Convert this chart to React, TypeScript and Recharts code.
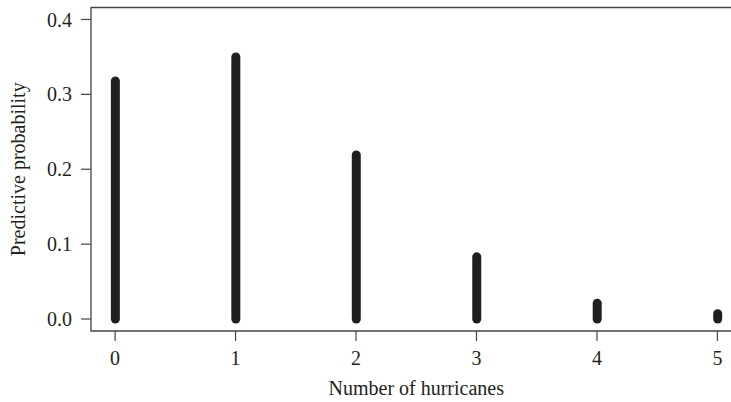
import React from "react";
import { ComposedChart, Bar, XAxis, YAxis, ReferenceArea } from "recharts";

const counts = [0, 1, 2, 3, 4, 5];
const probabilities = [0.318, 0.35, 0.219, 0.083, 0.021, 0.007];
const yTicks = [0, 0.1, 0.2, 0.3, 0.4];
const xTicks = [0, 1, 2, 3, 4, 5];

const data = counts.map((c, i) => ({ n: c, p: probabilities[i] }));

const FONT = "'Liberation Serif', 'DejaVu Serif', serif";
const INK = "#231f20";

const Stick = (props: any) => {
  const { x, y, width, height } = props;
  const cx = x + width / 2;
  return (
    <line
      x1={cx}
      x2={cx}
      y1={y}
      y2={y + height}
      stroke={INK}
      strokeWidth={9}
      strokeLinecap="round"
    />
  );
};

export default function App() {
  return (
    <div style={{ position: "absolute", left: 0, top: 0, width: 731, height: 402, overflow: "hidden", background: "#fff" }}>
      <ComposedChart
        width={760}
        height={402}
        data={data}
        margin={{ top: 7.5, right: 18.5, bottom: 0, left: 0 }}
      >
        <XAxis
          dataKey="n"
          type="number"
          domain={[-0.2, 5.2]}
          ticks={xTicks}
          allowDataOverflow
          height={71}
          axisLine={false}
          tickSize={10}
          tickMargin={10}
          tickLine={{ stroke: "#444", strokeWidth: 1.2 }}
          tick={{ fill: INK, fontSize: 20, fontFamily: FONT }}
          label={{
            value: "Number of hurricanes",
            position: "insideBottom",
            offset: 7,
            fill: INK,
            fontSize: 20,
            fontFamily: FONT,
          }}
        />
        <YAxis
          type="number"
          domain={[-0.016, 0.416]}
          ticks={yTicks}
          allowDataOverflow
          width={91}
          axisLine={false}
          tickSize={10}
          tickMargin={9}
          tickFormatter={(v: number) => v.toFixed(1)}
          tickLine={{ stroke: "#444", strokeWidth: 1.2 }}
          tick={{ fill: INK, fontSize: 20, fontFamily: FONT }}
          label={{
            value: "Predictive probability",
            angle: -90,
            position: "insideLeft",
            offset: 18,
            fill: INK,
            fontSize: 20,
            fontFamily: FONT,
            style: { textAnchor: "middle" },
          }}
        />
        <ReferenceArea
          x1={-0.2}
          x2={5.2}
          y1={-0.016}
          y2={0.416}
          fill="none"
          fillOpacity={0}
          stroke="#444"
          strokeWidth={1.3}
          ifOverflow="visible"
        />
        <Bar dataKey="p" barSize={9} shape={<Stick />} isAnimationActive={false} />
      </ComposedChart>
    </div>
  );
}
